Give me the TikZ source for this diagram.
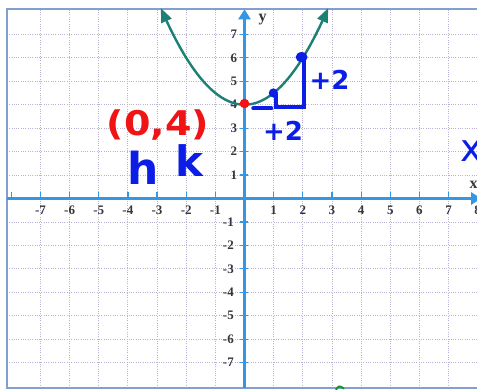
\documentclass[tikz,border=0pt]{standalone}
\usepackage{fontspec}
\setmainfont{Liberation Serif}
\newfontfamily\hand{DejaVu Sans}
\usetikzlibrary{arrows.meta}
\definecolor{axisblue}{RGB}{55,150,225}
\definecolor{gridc}{RGB}{185,178,212}
\definecolor{framec}{RGB}{130,160,205}
\definecolor{curvec}{RGB}{28,128,116}
\definecolor{penred}{RGB}{240,20,20}
\definecolor{penblue}{RGB}{12,30,230}
\definecolor{labc}{RGB}{55,55,55}
\definecolor{pengreen}{RGB}{20,150,40}
\begin{document}
\begin{tikzpicture}[x=29.15pt,y=23.45pt,
  gridline/.style={draw=gridc, line width=0.9pt, dash pattern=on 1pt off 1.3pt},
  axisline/.style={draw=axisblue, line width=2.4pt},
  tickline/.style={draw=axisblue, line width=1.2pt},
  ticklab/.style={font=\fontsize{13}{13}\selectfont\bfseries, text=labc, inner sep=0pt},
  axislab/.style={font=\fontsize{16}{16}\selectfont\bfseries, text=labc, inner sep=0pt},
  penstroke/.style={draw=penblue, line width=4pt, line cap=round},
  handred/.style={font=\hand\bfseries\fontsize{34}{34}\selectfont, text=penred, inner sep=0pt},
  handblue/.style={font=\hand\fontsize{#1}{#1}\selectfont, text=penblue, inner sep=0pt},
  handbluebf/.style={font=\hand\bfseries\fontsize{#1}{#1}\selectfont, text=penblue, inner sep=0pt}
]
\clip (-8.388,-8.124) rectangle (7.976,8.465);
\fill[white] (-8.388,-8.124) rectangle (7.976,8.465);
% grid
\foreach \i in {-7,...,7} {
  \draw[gridline] (\i,-8.08) -- (\i,8.07);
  \draw[gridline] (-8.15,\i) -- (8.3,\i);
}
% frame
\draw[framec, line width=1.8pt] (-8.15,-8.08) rectangle (8.4,8.07);
% axes
\coordinate (xl) at (-8.15,0);
\coordinate (xr) at (8.12,0);
\coordinate (yb) at (0,-8.08);
\coordinate (yt) at (0,8.07);
\draw[axisline, -{Triangle[length=10pt,width=12pt]}] (xl) -- (xr);
\draw[axisline, -{Triangle[length=10pt,width=12pt]}] (yb) -- (yt);
% ticks and labels
\foreach \i in {-8,...,8} { \draw[tickline] (\i,0) -- (\i,0.28); }
\foreach \i in {-7,...,-1} { \node[ticklab] (xlab\i) at (\i,-0.5) {\i}; }
\foreach \i in {1,...,8} { \node[ticklab] (xlab\i) at (\i,-0.5) {\i}; }
\foreach \j in {-7,...,7} { \draw[tickline] (-0.17,\j) -- (0.12,\j); }
\foreach \j in {1,...,7} { \node[ticklab, anchor=east] (ylab\j) at (-0.25,\j) {\j}; }
\foreach \j in {-7,...,-1} { \node[ticklab, anchor=east] (ylab\j) at (-0.36,\j) {\j}; }
\node[axislab] (ylabel) at (0.62,7.62) {y};
\node[axislab] (xlabel) at (7.86,0.60) {x};
% parabola
\draw[curvec, line width=2.4pt, {Triangle[length=14pt,width=11pt]}-{Triangle[length=14pt,width=11pt]}, domain=-2.87:2.87, samples=80]
  plot (\x, {0.5*\x*\x+4});
% handwritten marks
\coordinate (h2) at (2.03,3.91);
\coordinate (v2) at (2.03,6.0);
\coordinate (u1) at (0.30,3.84);
\coordinate (u2) at (0.92,3.84);
\coordinate (b1) at (1.08,4.45);
\coordinate (b2) at (1.08,3.91);
\draw[penstroke] (u1) -- (u2);
\draw[penstroke] (b1) -- (b2) -- (h2) -- (v2);
\fill[penblue] (0.99,4.5) circle (4.6pt);
\fill[penblue] (1.96,6.03) ellipse (6pt and 5pt);
\fill[penred] (0,4.05) circle (4.8pt);
\node[handred] (vertex) at (-2.97,3.14) {\scalebox{1.12}[1]{(0,4)}};
\node[handbluebf=44] (hlab) at (-3.48,1.30) {h};
\node[handbluebf=42] (klab) at (-1.90,1.62) {k};
\node[handbluebf=26] (dxlab) at (1.32,2.88) {+2};
\node[handbluebf=26] (dylab) at (2.92,5.05) {+2};
\node[handblue=38] (xmark) at (7.78,2.02) {x};
\draw[pengreen, line width=2pt, line cap=round] (3.14,-8.14) .. controls (3.25,-7.98) .. (3.4,-8.1);
\end{tikzpicture}
\end{document}
